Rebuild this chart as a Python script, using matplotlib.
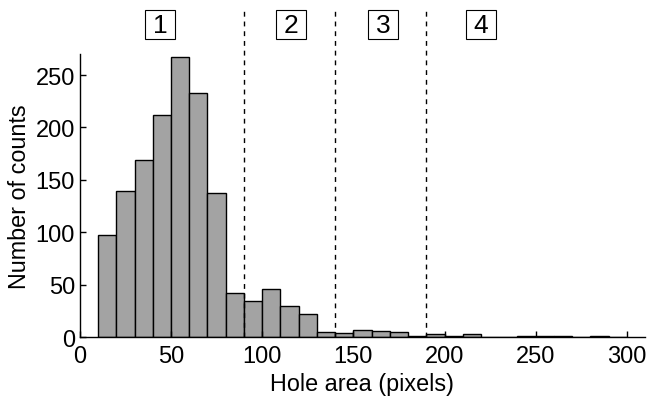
import matplotlib
matplotlib.use("Agg")
import matplotlib.pyplot as plt
import matplotlib.transforms as mtransforms
from matplotlib.patches import Rectangle
import numpy as np

plt.rcParams['font.family'] = ['Liberation Sans', 'DejaVu Sans']

bin_left = [10, 20, 30, 40, 50, 60, 70, 80, 90, 100, 110, 120, 130, 140, 150,
            160, 170, 180, 190, 200, 210, 220, 230, 240, 250, 260, 270, 280, 290]
counts = [97, 139, 169, 212, 267, 233, 137, 42, 34, 46, 30, 22, 5, 4, 7,
          6, 5, 1, 3, 1, 3, 0, 0, 1, 1, 1, 0, 1, 0]
bin_width = 10
boundaries = [90, 140, 190]
region_labels = ["1", "2", "3", "4"]
region_x = [44, 116, 166.5, 220]
label_y = 298

fig = plt.figure(figsize=(6.49, 4.02), dpi=100)
ax = fig.add_axes([0.123, 0.159, 0.871, 0.704])

ax.bar(bin_left, counts, width=bin_width, align='edge', color='#a3a3a3',
       edgecolor='black', linewidth=1.0)

for b in boundaries:
    ax.axvline(b, ymin=0, ymax=1.152, color='black', linestyle=(0, (3.5, 3.5)),
               linewidth=1.0, clip_on=False)

for lab, xp in zip(region_labels, region_x):
    ax.text(xp, label_y, lab, ha='center', va='center', fontsize=19, clip_on=False)
    tr = mtransforms.ScaledTranslation(xp, label_y, ax.transData)
    rect = Rectangle((-15, -14.5), 30, 29, transform=tr, fill=False,
                     edgecolor='black', linewidth=0.8, clip_on=False)
    ax.add_artist(rect)

ax.set_xlim(0, 310)
ax.set_ylim(0, 270)
ax.set_xticks([0, 50, 100, 150, 200, 250, 300])
ax.set_yticks([0, 50, 100, 150, 200, 250])
ax.tick_params(direction='in', length=4, labelsize=17, width=1)
ax.tick_params(axis='x', pad=6)
ax.tick_params(axis='y', pad=3.5)
ax.spines['top'].set_visible(False)
ax.spines['right'].set_visible(False)
ax.spines['left'].set_linewidth(1.0)
ax.spines['bottom'].set_linewidth(1.0)
ax.set_xlabel("Hole area (pixels)", fontsize=16.8, labelpad=3)
ax.set_ylabel("Number of counts", fontsize=16.8, labelpad=3)

fig.savefig("out.png", dpi=100)
